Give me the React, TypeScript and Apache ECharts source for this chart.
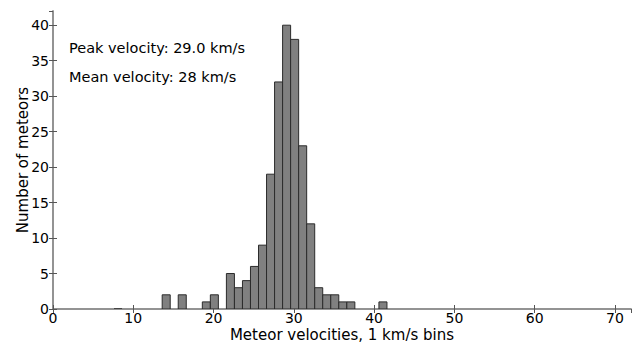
import React, { useEffect, useRef } from "react";
import * as echarts from "echarts";

const binLefts = [7.6, 13.6, 15.6, 18.6, 19.6, 21.6, 22.6, 23.6, 24.6, 25.6, 26.6, 27.6, 28.6, 29.6, 30.6, 31.6, 32.6, 33.6, 34.6, 35.6, 36.6, 40.6];
const counts = [0, 2, 2, 1, 2, 5, 3, 4, 6, 9, 19, 32, 40, 38, 23, 12, 3, 2, 2, 1, 1, 1];
const binWidth = 1;
const annotations = ["Peak velocity: 29.0 km/s", "Mean velocity: 28 km/s"];
const xTitle = "Meteor velocities, 1 km/s bins";
const yTitle = "Number of meteors";

const FONT = "DejaVu Sans";

export default function App() {
  const ref = useRef<HTMLDivElement>(null);
  useEffect(() => {
    if (!ref.current) return;
    const chart = echarts.init(ref.current, null, { renderer: "svg" });
    const data = binLefts.map((l, i) => [l, l + binWidth, counts[i]]);
    const frame = { show: true, lineStyle: { color: "#8c8c8c", width: 1.5 } };
    const tickIn = { show: true, inside: true, length: 4, lineStyle: { color: "#555" } };
    chart.setOption({
      animation: false,
      grid: { left: 53, right: 4, top: 11, bottom: 35, show: false, outerBoundsMode: "none", containLabel: false },
      xAxis: [
        {
          type: "value", min: 0, max: 72, interval: 10,
          axisLine: frame, axisTick: tickIn, splitLine: { show: false },
          axisLabel: { color: "#000", fontFamily: FONT, fontSize: 14, margin: 2, lineHeight: 14, showMaxLabel: false },
          name: xTitle, nameLocation: "middle", nameGap: 18.5, nameMoveOverlap: false,
          nameTextStyle: { color: "#000", fontFamily: FONT, fontSize: 15, lineHeight: 15, verticalAlign: "top" },
        },
        {
          type: "value", min: 0, max: 72, interval: 10, position: "top",
          axisLine: frame, axisTick: tickIn, axisLabel: { show: false }, splitLine: { show: false },
        },
      ],
      yAxis: [
        {
          type: "value", min: 0, max: 42, interval: 5,
          axisLine: frame, axisTick: tickIn, splitLine: { show: false },
          axisLabel: { color: "#000", fontFamily: FONT, fontSize: 14, margin: 4, showMaxLabel: false },
          name: yTitle, nameLocation: "middle", nameGap: 23, nameMoveOverlap: false,
          nameTextStyle: { color: "#000", fontFamily: FONT, fontSize: 15 },
        },
        {
          type: "value", min: 0, max: 42, interval: 5, position: "right",
          axisLine: frame, axisTick: tickIn, axisLabel: { show: false }, splitLine: { show: false },
        },
      ],
      graphic: annotations.map((t, i) => ({
        type: "text", left: 69, top: 40 + i * 29,
        style: { text: t, fill: "#000", font: `14.5px "${FONT}"` },
      })),
      series: [
        {
          type: "custom",
          data,
          clip: true,
          renderItem: (params: any, api: any) => {
            const tl = api.coord([api.value(0), api.value(2)]);
            const br = api.coord([api.value(1), 0]);
            return {
              type: "rect",
              shape: { x: tl[0], y: tl[1], width: br[0] - tl[0], height: br[1] - tl[1] },
              style: { fill: "#808080", stroke: "#2b2b2b", lineWidth: 1 },
            };
          },
        },
      ],
    });
    return () => chart.dispose();
  }, []);
  return <div ref={ref} style={{ width: 635, height: 344, position: "absolute", left: 0, top: 0 }} />;
}
